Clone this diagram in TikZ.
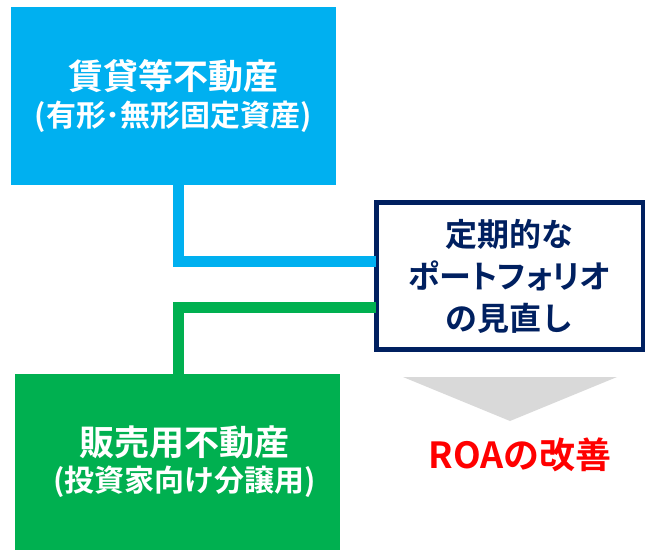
\documentclass[tikz,border=0pt]{standalone}
\usepackage{fontspec}
\newfontfamily\jp{Noto Sans CJK JP}[BoldFont={Noto Sans CJK JP Bold}]
\definecolor{cblue}{HTML}{00B0F0}
\definecolor{cgreen}{HTML}{00B050}
\definecolor{cnavy}{HTML}{002060}
\definecolor{cgray}{HTML}{D9D9D9}
\definecolor{cred}{HTML}{FF0000}
\newcommand{\lineA}[1]{{\fontsize{35}{40}\selectfont #1}}
\newcommand{\lineB}[1]{{\fontsize{30}{40}\selectfont #1}}
\tikzset{
  box/.style={rectangle, inner sep=0pt, outer sep=0pt, align=center, font=\jp\bfseries},
  conn/.style={line width=11pt},
}
\begin{document}
\begin{tikzpicture}[x=1pt,y=-1pt]
\useasboundingbox (0,0) rectangle (646,550);
\node[box, fill=cblue, text=white, minimum width=325pt, minimum height=178pt] (blue) at (173.5,96)
  {\lineA{賃貸等不動産}\\[7pt]\lineB{(有形･無形固定資産)}};
\node[box, draw=cnavy, line width=4.5pt, fill=white, text=cnavy, minimum width=266.5pt, minimum height=147pt,
  font=\jp\bfseries\fontsize{32}{42}\selectfont] (navy) at (509.5,276)
  {定期的な\\{\addfontfeatures{RawFeature=+palt}ポートフォリオ}\\の見直し};
\node[box, fill=cgreen, text=white, minimum width=325pt, minimum height=176pt] (green) at (177.5,462)
  {\hspace*{14pt}\lineA{販売用不動産}\\[6pt]\hspace*{14pt}\lineB{(投資家向け分譲用)}};
\coordinate (bj) at (178,261);
\coordinate (gj) at (178,307.5);
\draw[conn, cblue] (blue.south -| bj) -- (bj) -- (navy.west |- bj);
\draw[conn, cgreen] (green.north -| gj) -- (gj) -- (navy.west |- gj);
\fill[cgray] (403,377) -- (617,377) -- (510,421) -- cycle;
\node[box, text=cred, font=\jp\bfseries\fontsize{36}{40}\selectfont] (roa) at (520,455) {ROAの改善};
\end{tikzpicture}
\end{document}
